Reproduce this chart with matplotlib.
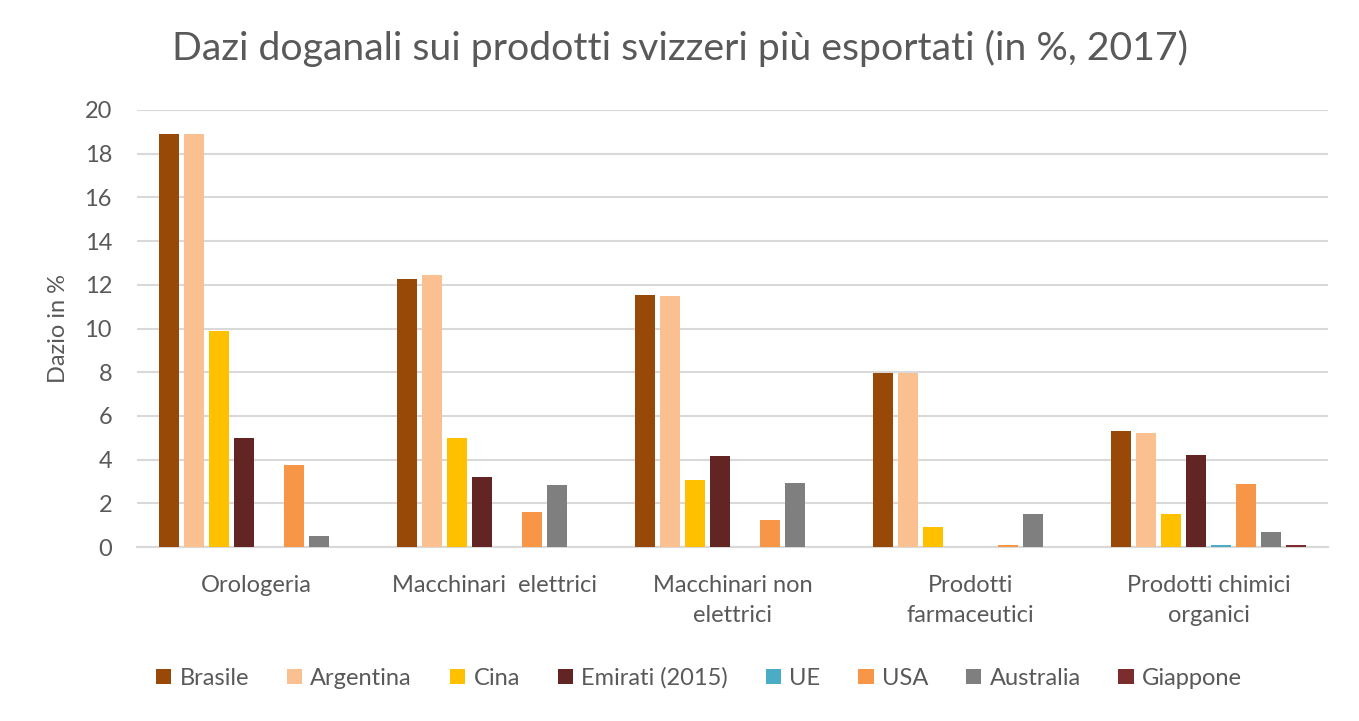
import matplotlib
matplotlib.use("Agg")
import matplotlib.pyplot as plt
import numpy as np

plt.rcParams['font.family'] = ['Lato', 'DejaVu Sans']

categories = ["Orologeria", "Macchinari  elettrici", "Macchinari non\nelettrici",
              "Prodotti\nfarmaceutici", "Prodotti chimici\norganici"]
series_names = ["Brasile", "Argentina", "Cina", "Emirati (2015)", "UE", "USA", "Australia", "Giappone"]
brasile = [18.9, 12.25, 11.55, 7.95, 5.3]
argentina = [18.9, 12.45, 11.5, 7.95, 5.2]
cina = [9.9, 5.0, 3.05, 0.9, 1.5]
emirati = [5.0, 3.2, 4.15, 0.0, 4.2]
ue = [0.0, 0.0, 0.0, 0.0, 0.1]
usa = [3.75, 1.6, 1.25, 0.1, 2.9]
australia = [0.5, 2.85, 2.95, 1.5, 0.7]
giappone = [0.0, 0.0, 0.0, 0.0, 0.1]
series = [brasile, argentina, cina, emirati, ue, usa, australia, giappone]
colors = ["#984807", "#FAC090", "#FFC000", "#632523", "#4BACC6", "#F79646", "#7F7F7F", "#7B2C2C"]
yticks = [0, 2, 4, 6, 8, 10, 12, 14, 16, 18, 20]

fig = plt.figure(figsize=(13.59, 7.21), dpi=100)
ax = fig.add_axes([137/1359, 1 - 547/721, (1328-137)/1359, (547-110)/721])

x = np.arange(len(categories))
bw = 20/238
step = 25/238
n = len(series)
for i, (vals, name, c) in enumerate(zip(series, series_names, colors)):
    offs = (i - (n-1)/2) * step
    ax.bar(x + offs, vals, width=bw, color=c, label=name, zorder=3)

ax.set_xlim(-0.5, len(categories) - 0.5)
ax.set_ylim(0, 20)
ax.set_yticks(yticks)
ax.set_yticklabels([str(t) for t in yticks], fontsize=17, color="#595959")
ax.set_xticks(x)
ax.set_xticklabels(categories, fontsize=17, color="#595959", linespacing=1.55, va="top")
ax.tick_params(axis='both', length=0)
ax.tick_params(axis='y', pad=18)
ax.tick_params(axis='x', pad=20)
ax.grid(axis='y', color="#D9D9D9", linewidth=1.5, zorder=0)
for s in ["top", "right", "left"]:
    ax.spines[s].set_visible(False)
ax.spines["bottom"].set_color("#D9D9D9")
ax.spines["bottom"].set_linewidth(1.5)

ax.set_ylabel("Dazio in %", fontsize=17, color="#595959")
ax.yaxis.set_label_coords(-68/1191, 0.5)

fig.text(680/1359, 1 - 48/721, "Dazi doganali sui prodotti svizzeri più esportati (in %, 2017)",
         ha="center", va="center", fontsize=28.3, color="#595959")

leg = fig.legend(loc="center", bbox_to_anchor=(699/1359, 1 - 678/721), ncol=8, frameon=False,
                 fontsize=17, handlelength=0.65, handleheight=0.65, handletextpad=0.35, columnspacing=1.6)
for t in leg.get_texts():
    t.set_color("#595959")

fig.savefig("out.png", dpi=100)
